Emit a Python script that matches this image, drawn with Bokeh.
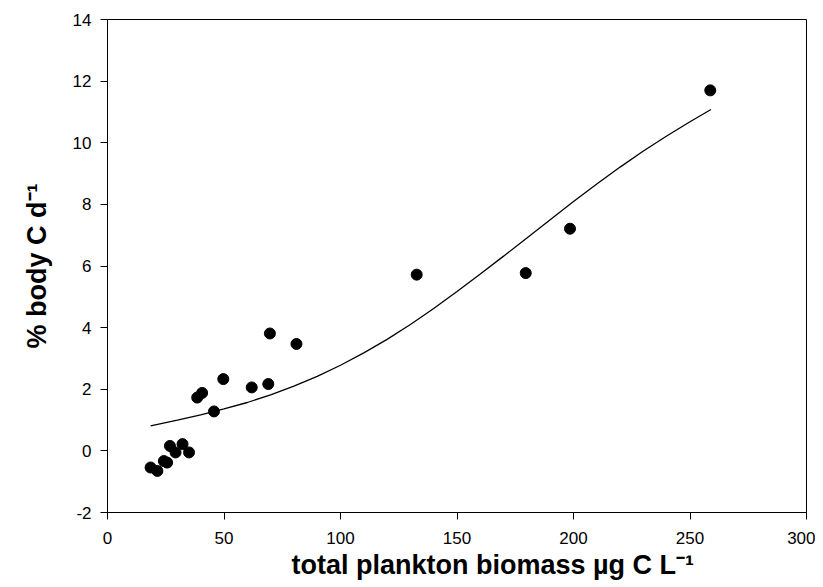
from bokeh.plotting import figure
from bokeh.models import Range1d, FixedTicker, Title
from bokeh.embed import file_html
from bokeh.resources import INLINE

# observed data
biomass = [18.5, 21.4, 24.2, 25.6, 26.8, 29.2, 32.2, 35.0, 38.5, 40.6, 45.7, 49.7,
           61.9, 69.0, 69.7, 81.1, 132.7, 179.5, 198.5, 258.7]
body_c = [-0.54, -0.65, -0.33, -0.38, 0.16, -0.05, 0.22, -0.05, 1.73, 1.88, 1.28, 2.33,
          2.06, 2.17, 3.81, 3.47, 5.72, 5.77, 7.21, 11.70]

# fitted curve
fit_x = [18.5, 30, 40, 50, 60, 70, 80, 90, 100, 110, 120, 130, 140, 150, 160, 170,
         180, 190, 200, 210, 220, 230, 240, 250, 259]
fit_y = [0.81, 1.00, 1.17, 1.36, 1.57, 1.82, 2.10, 2.42, 2.78, 3.18, 3.62, 4.10, 4.62,
         5.17, 5.74, 6.32, 6.91, 7.50, 8.09, 8.66, 9.21, 9.73, 10.22, 10.68, 11.08]

x_ticks = [0, 50, 100, 150, 200, 250, 300]
y_ticks = [-2, 0, 2, 4, 6, 8, 10, 12, 14]

x_title = "total plankton biomass µg C L⁻¹"
y_title = "% body C d⁻¹"

FONT = "Liberation Sans"

p = figure(width=815, height=587, output_backend="svg", toolbar_location=None,
           x_range=Range1d(0, 300), y_range=Range1d(-2, 14),
           min_border_left=107, min_border_right=9, min_border_top=19, min_border_bottom=75)
p.grid.visible = False
p.outline_line_color = "black"
p.outline_line_width = 1
p.background_fill_color = "white"
p.border_fill_color = "white"

for ax, ticks in ((p.xaxis[0], x_ticks), (p.yaxis[0], y_ticks)):
    ax.ticker = FixedTicker(ticks=ticks)
    ax.major_label_overrides = {t: str(t) for t in ticks}
    ax.minor_tick_line_color = None
    ax.major_tick_out = 7
    ax.major_tick_in = 0
    ax.axis_line_color = "black"
    ax.major_tick_line_color = "black"
    ax.major_label_text_font = FONT
    ax.major_label_text_font_size = "17px"
    ax.major_label_text_color = "black"

p.xaxis[0].major_label_standoff = 12
p.yaxis[0].major_label_standoff = 9

ya = p.yaxis[0]
ya.axis_label = y_title
ya.axis_label_text_font = FONT
ya.axis_label_text_font_style = "bold"
ya.axis_label_text_font_size = "27px"
ya.axis_label_text_color = "black"
ya.axis_label_standoff = 18

xt = Title(text=x_title, align="left", offset=184, standoff=3,
           text_font=FONT, text_font_style="bold", text_font_size="27px",
           text_color="black")
p.add_layout(xt, "below")

p.line(fit_x, fit_y, line_color="black", line_width=1.3)
p.scatter(biomass, body_c, size=11, fill_color="black", line_color="black")

open("out.html", "w").write(file_html(p, INLINE))
